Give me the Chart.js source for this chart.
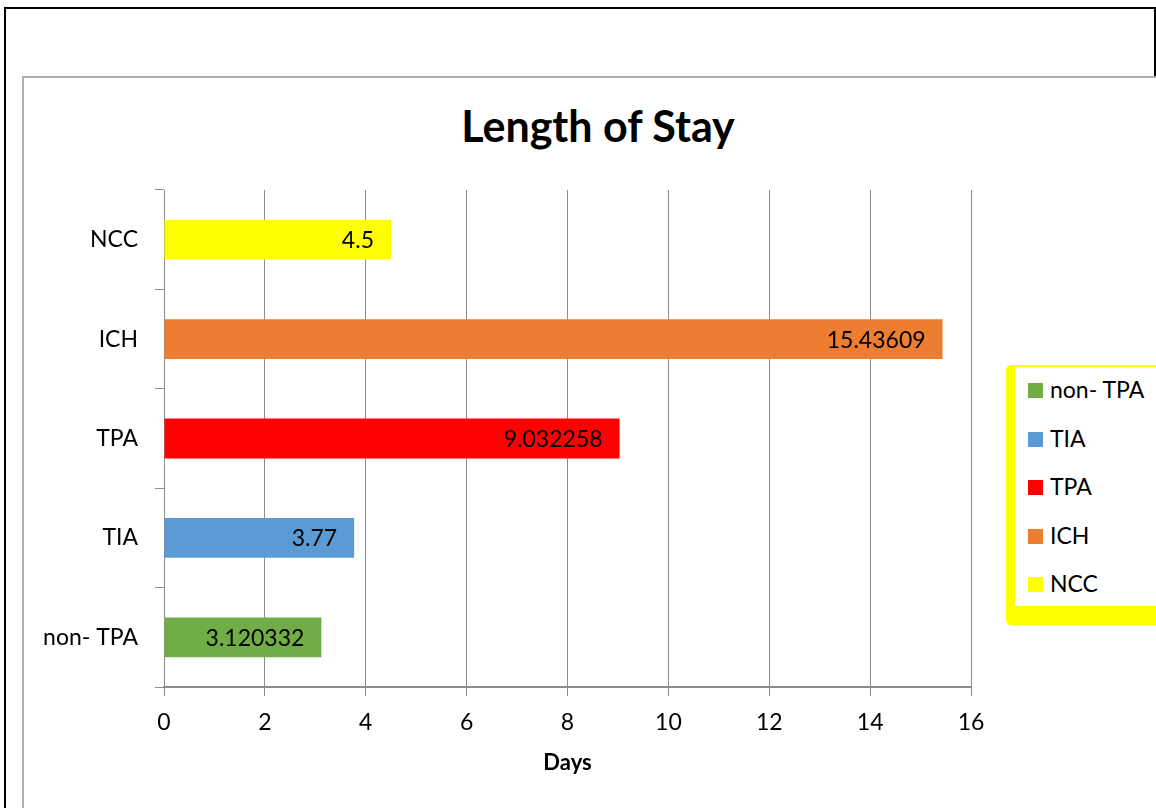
<!DOCTYPE html>
<html>
<head>
<meta charset="utf-8">
<script src="https://cdn.jsdelivr.net/npm/chart.js@4.4.1/dist/chart.umd.min.js"></script>
<style>
  html, body { margin: 0; padding: 0; background: #fff; }
  body { width: 1156px; height: 808px; position: relative; overflow: hidden; font-family: Lato, "Open Sans", sans-serif; }
  .outer { position: absolute; left: 4px; top: 7px; width: 1148px; height: 820px; border: 2px solid #000; }
  .inner { position: absolute; left: 22px; top: 76px; width: 1200px; height: 800px; border-left: 2px solid #b0b0b0; border-top: 2px solid #b0b0b0; background: #fff; }
  #chart { position: absolute; left: 0; top: 0; }
  .title { position: absolute; left: 0; width: 1196px; top: 100px; text-align: center; font-weight: bold; font-size: 43px; color: #000; }
  .legend { position: absolute; left: 1006px; top: 365px; width: 160px; height: 239px; background: #fff;
            border-left: 9px solid #ffff00; border-top: 2px solid #ffff00; border-bottom: 19px solid #ffff00; border-radius: 5px; }
  .legend .item { position: absolute; left: 13px; height: 26px; line-height: 26px; font-size: 23px; color: #000; white-space: nowrap; }
  .legend .box { display: inline-block; width: 15px; height: 15px; margin-right: 7px; vertical-align: 0px; }
</style>
</head>
<body>
<div class="outer"></div>
<div class="inner"></div>
<div class="title">Length of Stay</div>
<canvas id="chart" width="1156" height="808"></canvas>
<div class="legend" id="legend"></div>
<script>
let categories = ["non- TPA", "TIA", "TPA", "ICH", "NCC"];
let stay_days = [3.120332, 3.77, 9.032258, 15.43609, 4.5];
let bar_colors = ["#70ad47", "#5b9bd5", "#ff0000", "#ed7d31", "#ffff00"];
let x_ticks = [0, 2, 4, 6, 8, 10, 12, 14, 16];

let font_family = "Lato, 'Open Sans', sans-serif";
let grid_color = "#8c8c8c";

// values written at the inside end of each bar
let barValueLabels = {
  id: "barValueLabels",
  afterDatasetsDraw(chart) {
    let ctx = chart.ctx;
    let meta = chart.getDatasetMeta(0);
    ctx.save();
    ctx.font = "23px " + font_family;
    ctx.fillStyle = "#000";
    ctx.textAlign = "right";
    ctx.textBaseline = "middle";
    meta.data.forEach((bar, i) => {
      ctx.fillText(String(stay_days[i]), bar.x - 17, bar.y + 1);
    });
    ctx.restore();
  },
};

let config = {
  type: "bar",
  data: {
    labels: categories,
    datasets: [
      {
        label: "Length of Stay",
        data: stay_days,
        backgroundColor: bar_colors,
        borderWidth: 0,
        barPercentage: 0.4,
        categoryPercentage: 1,
      },
    ],
  },
  options: {
    indexAxis: "y",
    responsive: false,
    animation: false,
    layout: {
      padding: { left: 0, right: 185, top: 190, bottom: 30 },
    },
    plugins: {
      legend: { display: false },
      tooltip: { enabled: false },
    },
    scales: {
      x: {
        min: 0,
        max: 16,
        afterBuildTicks: (scale) => {
          scale.ticks = x_ticks.map((v) => ({ value: v }));
        },
        ticks: {
          color: "#000",
          padding: 13,
          font: { family: font_family, size: 23 },
        },
        grid: {
          color: grid_color,
          lineWidth: 1,
          tickLength: 9,
        },
        border: { color: grid_color, width: 2 },
        title: {
          display: true,
          text: "Days",
          color: "#000",
          font: { family: font_family, size: 22, weight: "bold" },
          padding: { top: 0, bottom: 2 },
        },
      },
      y: {
        reverse: true,
        afterFit: (scale) => {
          scale.width = 164;
        },
        ticks: {
          color: "#000",
          padding: 17,
          font: { family: font_family, size: 23 },
        },
        grid: {
          offset: true,
          drawOnChartArea: false,
          color: grid_color,
          tickLength: 9,
        },
        border: { color: grid_color, width: 1 },
      },
    },
  },
  plugins: [barValueLabels],
};

let chart = new Chart(document.getElementById("chart"), config);

// legend on the right, same order as the data
let legend_el = document.getElementById("legend");
for (let i = 0; i < categories.length; i++) {
  let item = document.createElement("div");
  item.className = "item";
  item.style.top = (9 + i * 48.5) + "px";
  let box = document.createElement("span");
  box.className = "box";
  box.style.background = bar_colors[i];
  item.appendChild(box);
  item.appendChild(document.createTextNode(categories[i]));
  legend_el.appendChild(item);
}
</script>
</body>
</html>
